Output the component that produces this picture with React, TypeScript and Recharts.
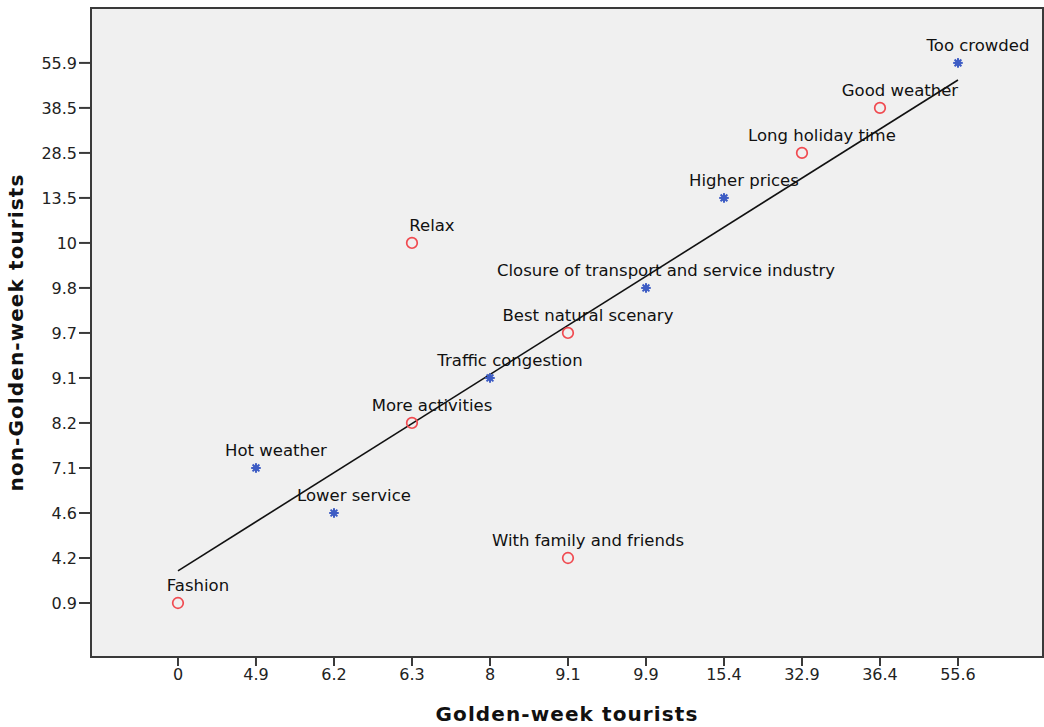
import React from "react";
import {
  ScatterChart,
  Scatter,
  XAxis,
  YAxis,
  ReferenceArea,
  ReferenceLine,
} from "recharts";

// Ordinal tick values shown on each axis (evenly spaced by rank)
const goldenTicks = [0, 4.9, 6.2, 6.3, 8, 9.1, 9.9, 15.4, 32.9, 36.4, 55.6];
const nonGoldenTicks = [0.9, 4.2, 4.6, 7.1, 8.2, 9.1, 9.7, 9.8, 10, 13.5, 28.5, 38.5, 55.9];

// Factors with their scores for both groups
const factors = [
  "Fashion",
  "Hot weather",
  "Lower service",
  "More activities",
  "Relax",
  "Traffic congestion",
  "Best natural scenary",
  "With family and friends",
  "Closure of transport and service industry",
  "Higher prices",
  "Long holiday time",
  "Good weather",
  "Too crowded",
];
const goldenWeek = [0, 4.9, 6.2, 6.3, 6.3, 8, 9.1, 9.1, 9.9, 15.4, 32.9, 36.4, 55.6];
const nonGoldenWeek = [0.9, 7.1, 4.6, 8.2, 10, 9.1, 9.7, 4.2, 9.8, 13.5, 28.5, 38.5, 55.9];
// "pos" = positive factor, "neg" = negative factor
const kinds = ["pos", "neg", "neg", "pos", "pos", "neg", "pos", "pos", "neg", "neg", "pos", "pos", "neg"];

const points = factors.map((name, i) => ({
  name,
  kind: kinds[i],
  x: goldenTicks.indexOf(goldenWeek[i]),
  y: nonGoldenTicks.indexOf(nonGoldenWeek[i]),
}));

const posPoints = points.filter((p) => p.kind === "pos");
const negPoints = points.filter((p) => p.kind === "neg");

// least squares fit on the ranks
const n = points.length;
const mx = points.reduce((s, p) => s + p.x, 0) / n;
const my = points.reduce((s, p) => s + p.y, 0) / n;
const sxy = points.reduce((s, p) => s + (p.x - mx) * (p.y - my), 0);
const sxx = points.reduce((s, p) => s + (p.x - mx) ** 2, 0);
const slope = sxy / sxx;
const intercept = my - slope * mx;
const fitX0 = 0;
const fitX1 = goldenTicks.length - 1;

const X_DOMAIN: [number, number] = [-1.115, 11.09];
const Y_DOMAIN: [number, number] = [-1.2, 13.22];

const FONT = "'DejaVu Sans', Verdana, sans-serif";
const AXIS_COLOR = "#3a3a3a";
const TITLE_STYLE = {
  fontSize: 20,
  fontWeight: "bold",
  fontFamily: FONT,
  fill: "#111",
  letterSpacing: 1.1,
};

// point labels sit above the marker, nudged to the right
const PointLabel = ({ cx, cy, text }: { cx: number; cy: number; text: string }) => (
  <text
    x={cx + 20}
    y={cy - 12}
    textAnchor="middle"
    fontSize={16.5}
    fontFamily={FONT}
    fill="#111"
  >
    {text}
  </text>
);

const CircleMark = (props: any) => {
  const { cx, cy, payload } = props;
  return (
    <g>
      <circle cx={cx} cy={cy} r={5.3} fill="none" stroke="#f04a50" strokeWidth={1.7} />
      <PointLabel cx={cx} cy={cy} text={payload.name} />
    </g>
  );
};

const StarMark = (props: any) => {
  const { cx, cy, payload } = props;
  const r = 4.8;
  const spokes = [0, 45, 90, 135].map((a) => {
    const rad = (a * Math.PI) / 180;
    return (
      <line
        key={a}
        x1={cx - r * Math.cos(rad)}
        y1={cy - r * Math.sin(rad)}
        x2={cx + r * Math.cos(rad)}
        y2={cy + r * Math.sin(rad)}
        stroke="#3d5cc4"
        strokeWidth={2}
      />
    );
  });
  return (
    <g>
      {spokes}
      <circle cx={cx} cy={cy} r={2.8} fill="#3d5cc4" />
      <PointLabel cx={cx} cy={cy} text={payload.name} />
    </g>
  );
};

const App = () => {
  return (
    <div style={{ position: "absolute", left: 0, top: 0, width: 1044, height: 727, background: "#fff" }}>
      <ScatterChart
        width={1044}
        height={727}
        margin={{ top: 8, right: 1, left: 0, bottom: 0 }}
      >
        <ReferenceArea
          x1={X_DOMAIN[0]}
          x2={X_DOMAIN[1]}
          y1={Y_DOMAIN[0]}
          y2={Y_DOMAIN[1]}
          fill="#f0f0f0"
          fillOpacity={1}
          stroke="#3a3a3a"
          strokeWidth={2}
        />
        <XAxis
          type="number"
          dataKey="x"
          domain={X_DOMAIN}
          ticks={goldenTicks.map((_, i) => i)}
          tickFormatter={(v: number) => String(goldenTicks[v])}
          height={70}
          tickSize={9}
          tickMargin={3}
          allowDataOverflow
          stroke={AXIS_COLOR}
          strokeWidth={2}
          tick={{ fontSize: 16, fontFamily: FONT, fill: "#222" }}
          label={{
            value: "Golden-week tourists",
            position: "insideBottom",
            offset: 6,
            style: TITLE_STYLE,
          }}
        />
        <YAxis
          type="number"
          dataKey="y"
          domain={Y_DOMAIN}
          ticks={nonGoldenTicks.map((_, i) => i)}
          tickFormatter={(v: number) => String(nonGoldenTicks[v])}
          width={91}
          tickSize={12}
          tickMargin={2}
          allowDataOverflow
          stroke={AXIS_COLOR}
          strokeWidth={2}
          tick={{ fontSize: 16, fontFamily: FONT, fill: "#222" }}
          label={{
            value: "non-Golden-week tourists",
            angle: -90,
            position: "insideLeft",
            offset: 16,
            style: { ...TITLE_STYLE, textAnchor: "middle" },
          }}
        />
        <ReferenceLine
          segment={[
            { x: fitX0, y: intercept + slope * fitX0 },
            { x: fitX1, y: intercept + slope * fitX1 },
          ]}
          stroke="#111"
          strokeWidth={1.6}
        />
        <Scatter data={posPoints} shape={CircleMark} isAnimationActive={false} />
        <Scatter data={negPoints} shape={StarMark} isAnimationActive={false} />
      </ScatterChart>
    </div>
  );
};

export default App;
